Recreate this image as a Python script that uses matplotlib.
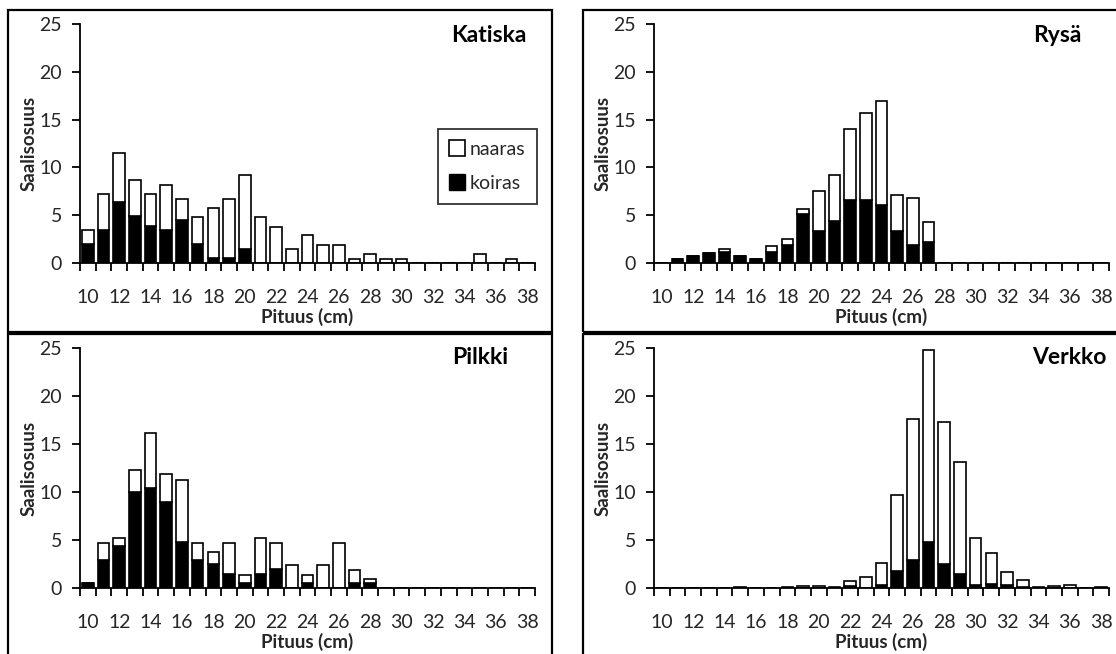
import matplotlib
matplotlib.use("Agg")
import matplotlib.pyplot as plt
from matplotlib.patches import Rectangle
from matplotlib.lines import Line2D
from matplotlib.ticker import FixedLocator

plt.rcParams['font.family'] = ['Lato', 'DejaVu Sans']

lengths = list(range(10, 39))
tick_labels = [str(v) for v in range(10, 39, 2)]

katiska_koiras = [2.0, 3.45, 6.35, 4.9, 3.9, 3.45, 4.45, 1.95, 0.5, 0.5, 1.5,
                  0, 0, 0, 0, 0, 0, 0, 0, 0, 0, 0, 0, 0, 0, 0, 0, 0, 0]
katiska_naaras = [1.4, 3.8, 5.15, 3.8, 3.35, 4.7, 2.25, 2.85, 5.3, 6.2, 7.7,
                  4.8, 3.8, 1.45, 2.9, 1.9, 1.9, 0.45, 0.9, 0.45, 0.45,
                  0, 0, 0, 0, 0.9, 0, 0.45, 0]

rysa_koiras = [0, 0.4, 0.7, 1.05, 1.1, 0.7, 0.4, 1.1, 1.9, 5.15, 3.3, 4.35,
               6.55, 6.55, 6.1, 3.3, 1.85, 2.2, 0, 0, 0, 0, 0, 0, 0, 0, 0, 0, 0]
rysa_naaras = [0, 0, 0, 0, 0.37, 0, 0, 0.65, 0.6, 0.55, 4.2, 4.9,
               7.45, 9.15, 10.8, 3.8, 4.95, 2.05, 0, 0, 0, 0, 0, 0, 0, 0, 0, 0, 0]

pilkki_koiras = [0.5, 2.9, 4.4, 10.05, 10.45, 9.0, 4.75, 2.9, 2.45, 1.45, 0.55,
                 1.45, 2.0, 0, 0.55, 0, 0, 0.55, 0.55, 0, 0, 0, 0, 0, 0, 0, 0, 0, 0]
pilkki_naaras = [0, 1.8, 0.8, 2.25, 5.65, 2.9, 6.55, 1.8, 1.35, 3.25, 0.8,
                 3.75, 2.7, 2.4, 0.8, 2.4, 4.7, 1.35, 0.4, 0, 0, 0, 0, 0, 0, 0, 0, 0, 0]

verkko_koiras = [0, 0, 0, 0, 0, 0, 0, 0, 0, 0, 0, 0, 0.2, 0, 0.3, 1.75, 2.9,
                 4.8, 2.45, 1.45, 0.3, 0.4, 0.3, 0.15, 0, 0, 0, 0, 0]
verkko_naaras = [0, 0, 0, 0, 0, 0.1, 0, 0, 0.1, 0.2, 0.2, 0.1, 0.5, 1.15, 2.3,
                 7.95, 14.75, 20.0, 14.8, 11.65, 4.9, 3.2, 1.4, 0.65, 0.1, 0.2,
                 0.35, 0, 0.1]

W, H = 1116, 654
fig = plt.figure(figsize=(W / 100, H / 100), dpi=100)


def fx(x):
    return x / W


def fy(y):
    return 1 - y / H


# panel borders
for (x0, y0, x1, y1) in [(8, 10, 552, 332), (8, 334, 552, 670),
                         (583, 10, 1130, 332), (583, 334, 1130, 670)]:
    fig.add_artist(Rectangle((fx(x0), fy(y1)), fx(x1) - fx(x0), fy(y0) - fy(y1),
                             transform=fig.transFigure, fill=False,
                             edgecolor='black', linewidth=1.6))

panels = [
    ("Katiska", katiska_koiras, katiska_naaras, 80, 535, 263, 24, 489, 35, True),
    ("Rysä", rysa_koiras, rysa_naaras, 654, 1109, 263, 24, 1057, 35, False),
    ("Pilkki", pilkki_koiras, pilkki_naaras, 80, 535, 588, 348, 480, 358, False),
    ("Verkko", verkko_koiras, verkko_naaras, 654, 1109, 588, 348, 1069, 358, False),
]

TXT = '#262626'
for title, koiras, naaras, xl, xr, y0, y25, tx, ty, leg in panels:
    ax = fig.add_axes([fx(xl), fy(y0), fx(xr) - fx(xl), fy(y25) - fy(y0)])
    pos = list(range(len(lengths)))
    ax.bar(pos, koiras, width=0.74, color='black', edgecolor='black',
           linewidth=1.2, label='koiras', zorder=3)
    ax.bar(pos, naaras, width=0.74, bottom=koiras, color='white',
           edgecolor='black', linewidth=1.2, label='naaras', zorder=3)
    ax.set_xlim(-0.5, len(lengths) - 0.5)
    ax.set_ylim(0, 25)
    ax.set_yticks([0, 5, 10, 15, 20, 25])
    ax.set_xticks(list(range(0, len(lengths), 2)))
    ax.set_xticklabels(tick_labels)
    ax.xaxis.set_minor_locator(FixedLocator([p - 0.5 for p in range(len(lengths) + 1)]))
    ax.tick_params(axis='x', which='major', length=0, pad=18.5, labelsize=14,
                   labelcolor=TXT)
    ax.tick_params(axis='x', which='minor', length=6, width=1.3, direction='out',
                   color='black')
    ax.tick_params(axis='y', length=6, width=1.3, direction='out', pad=7,
                   labelsize=14, labelcolor=TXT, color='black')
    for s in ['top', 'right']:
        ax.spines[s].set_visible(False)
    for s in ['left', 'bottom']:
        ax.spines[s].set_linewidth(1.3)
        ax.spines[s].set_zorder(4)
    fig.text(fx((xl + xr) / 2), fy(y0 + 54), "Pituus (cm)", fontsize=13.5,
             fontweight='bold', ha='center', va='center', color=TXT)
    ax.set_ylabel("Saalisosuus", fontsize=13.5, fontweight='bold', labelpad=1,
                  color=TXT)
    ax.patch.set_alpha(0)
    fig.text(fx(tx), fy(ty), title, fontsize=16.5, fontweight='bold',
             ha='center', va='center', color='black')
    if leg:
        h_n = Line2D([], [], marker='s', linestyle='none', markersize=12,
                     markerfacecolor='white', markeredgecolor='black',
                     markeredgewidth=1.2)
        h_k = Line2D([], [], marker='s', linestyle='none', markersize=12,
                     markerfacecolor='black', markeredgecolor='black')
        lg = ax.legend([h_n, h_k], ['naaras', 'koiras'], loc='upper left',
                       bbox_to_anchor=((438 - xl) / (xr - xl), (y0 - 129) / (y0 - y25)),
                       frameon=True, fancybox=False, edgecolor='black',
                       fontsize=14, handlelength=0.8, handletextpad=0.25,
                       labelspacing=0.9, borderpad=0.6, borderaxespad=0)
        for t in lg.get_texts():
            t.set_color(TXT)
        lg.get_frame().set_linewidth(1.3)

fig.savefig("out.png", dpi=100)
